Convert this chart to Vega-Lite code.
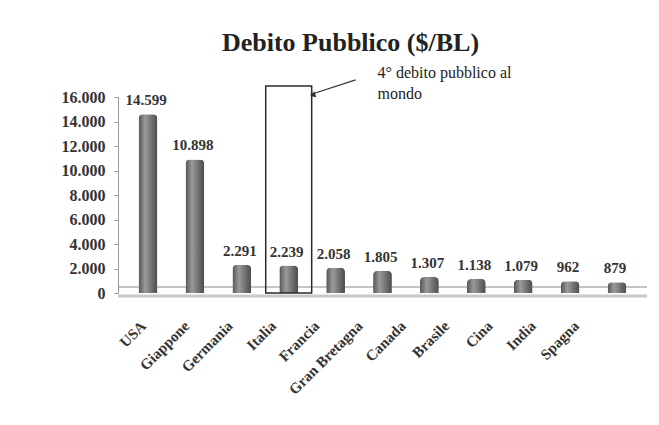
{
  "$schema": "https://vega.github.io/schema/vega-lite/v6.json",
  "width": 529,
  "height": 196,
  "autosize": {"type": "none"},
  "padding": {"left": 118, "top": 97, "right": 12, "bottom": 132},
  "background": "white",
  "config": {
    "view": {"stroke": null},
    "locale": {
      "number": {
        "decimal": ",",
        "thousands": ".",
        "grouping": [3],
        "currency": ["", " €"]
      }
    }
  },
  "title": {
    "text": "Debito Pubblico ($/BL)",
    "font": "Liberation Serif",
    "fontSize": 26,
    "fontWeight": "bold",
    "color": "#222222",
    "offset": 9,
    "dx": -32
  },
  "data": {
    "values": [
      {"paese": "USA", "debito": 14599},
      {"paese": "Giappone", "debito": 10898},
      {"paese": "Germania", "debito": 2291},
      {"paese": "Italia", "debito": 2239},
      {"paese": "Francia", "debito": 2058},
      {"paese": "Gran Bretagna", "debito": 1805},
      {"paese": "Canada", "debito": 1307},
      {"paese": "Brasile", "debito": 1138},
      {"paese": "Cina", "debito": 1079},
      {"paese": "India", "debito": 962},
      {"paese": "Spagna", "debito": 879}
    ]
  },
  "encoding": {
    "y": {
      "field": "debito",
      "type": "quantitative",
      "scale": {"domain": [0, 16000], "nice": false},
      "axis": {
        "values": [0, 2000, 4000, 6000, 8000, 10000, 12000, 14000, 16000],
        "format": ",d",
        "title": null,
        "grid": false,
        "labelOverlap": false,
        "labelFont": "Liberation Serif",
        "labelFontSize": 16,
        "labelFontWeight": "bold",
        "labelColor": "#333333",
        "domainColor": "#9a9a9a",
        "tickColor": "#9a9a9a",
        "tickSize": 4,
        "labelPadding": 9
      }
    }
  },
  "resolve": {"scale": {"x": "independent"}, "axis": {"x": "independent"}},
  "layer": [
    {
      "encoding": {
        "x": {
          "field": "paese",
          "type": "nominal",
          "sort": null,
          "scale": {"paddingInner": 0.6, "paddingOuter": 0.44},
          "axis": null
        }
      },
      "layer": [
        {
          "transform": [{"filter": "datum.paese === 'USA'"}],
          "mark": {"type": "rule", "stroke": "#c9c9c9", "strokeWidth": 3, "yOffset": 3},
          "encoding": {"x": null, "y": {"datum": 0}}
        },
        {
          "transform": [{"filter": "datum.paese === 'USA'"}],
          "mark": {"type": "rule", "stroke": "#8c8c8c", "strokeWidth": 1.2, "yOffset": -6},
          "encoding": {"x": null, "y": {"datum": 0}}
        },
        {
          "mark": {
            "type": "bar",
            "cornerRadiusTopLeft": 4,
            "cornerRadiusTopRight": 4,
            "color": {
              "gradient": "linear",
              "x1": 0, "x2": 1, "y1": 0, "y2": 0,
              "stops": [
                {"offset": 0, "color": "#555555"},
                {"offset": 0.35, "color": "#9a9a9a"},
                {"offset": 0.6, "color": "#7c7c7c"},
                {"offset": 1, "color": "#4c4c4c"}
              ]
            }
          }
        },
        {
          "mark": {
            "type": "text",
            "baseline": "bottom",
            "dy": -6,
            "dx": -2,
            "font": "Liberation Serif",
            "fontSize": 15,
            "fontWeight": "bold",
            "color": "#333333"
          },
          "encoding": {
            "text": {"field": "debito", "type": "quantitative", "format": ",d"}
          }
        },
        {
          "transform": [{"filter": "datum.paese === 'Italia'"}],
          "mark": {
            "type": "bar",
            "width": {"band": 2.45},
            "fillOpacity": 0,
            "stroke": "#2a2a2a",
            "strokeWidth": 1.5
          },
          "encoding": {
            "y": {"datum": 16900},
            "y2": {"datum": 0}
          }
        },
        {
          "transform": [{"filter": "datum.paese === 'Italia'"}],
          "mark": {"type": "rule", "stroke": "#333333", "strokeWidth": 1.2, "xOffset": 22, "x2Offset": 20},
          "encoding": {
            "x": {"datum": "Italia"},
            "x2": {"datum": "Francia"},
            "y": {"datum": 16200},
            "y2": {"datum": 17400}
          }
        },
        {
          "transform": [{"filter": "datum.paese === 'Italia'"}],
          "mark": {
            "type": "point",
            "shape": "triangle-left",
            "filled": true,
            "size": 40,
            "angle": 342,
            "color": "#333333",
            "opacity": 1,
            "xOffset": 24
          },
          "encoding": {
            "x": {"datum": "Italia"},
            "y": {"datum": 16150}
          }
        },
        {
          "transform": [{"filter": "datum.paese === 'Italia'"}],
          "mark": {
            "type": "text",
            "align": "left",
            "baseline": "alphabetic",
            "lineHeight": 21,
            "dx": -5,
            "font": "Liberation Serif",
            "fontSize": 16,
            "color": "#222222"
          },
          "encoding": {
            "x": {"datum": "Gran Bretagna"},
            "y": {"datum": 17550},
            "text": {"value": ["4° debito pubblico al", "mondo"]}
          }
        }
      ]
    },
    {
      "mark": {"type": "point", "opacity": 0},
      "encoding": {
        "x": {
          "field": "paese",
          "type": "nominal",
          "sort": null,
          "scale": {"type": "point", "range": [25, 458], "padding": 0},
          "axis": {
            "orient": "bottom",
            "title": null,
            "domain": false,
            "ticks": false,
            "labelAngle": -45,
            "labelAlign": "right",
            "labelBaseline": "middle",
            "labelPadding": 30,
            "labelFont": "Liberation Serif",
            "labelFontSize": 15,
            "labelFontWeight": "bold",
            "labelColor": "#333333"
          }
        }
      }
    }
  ]
}
